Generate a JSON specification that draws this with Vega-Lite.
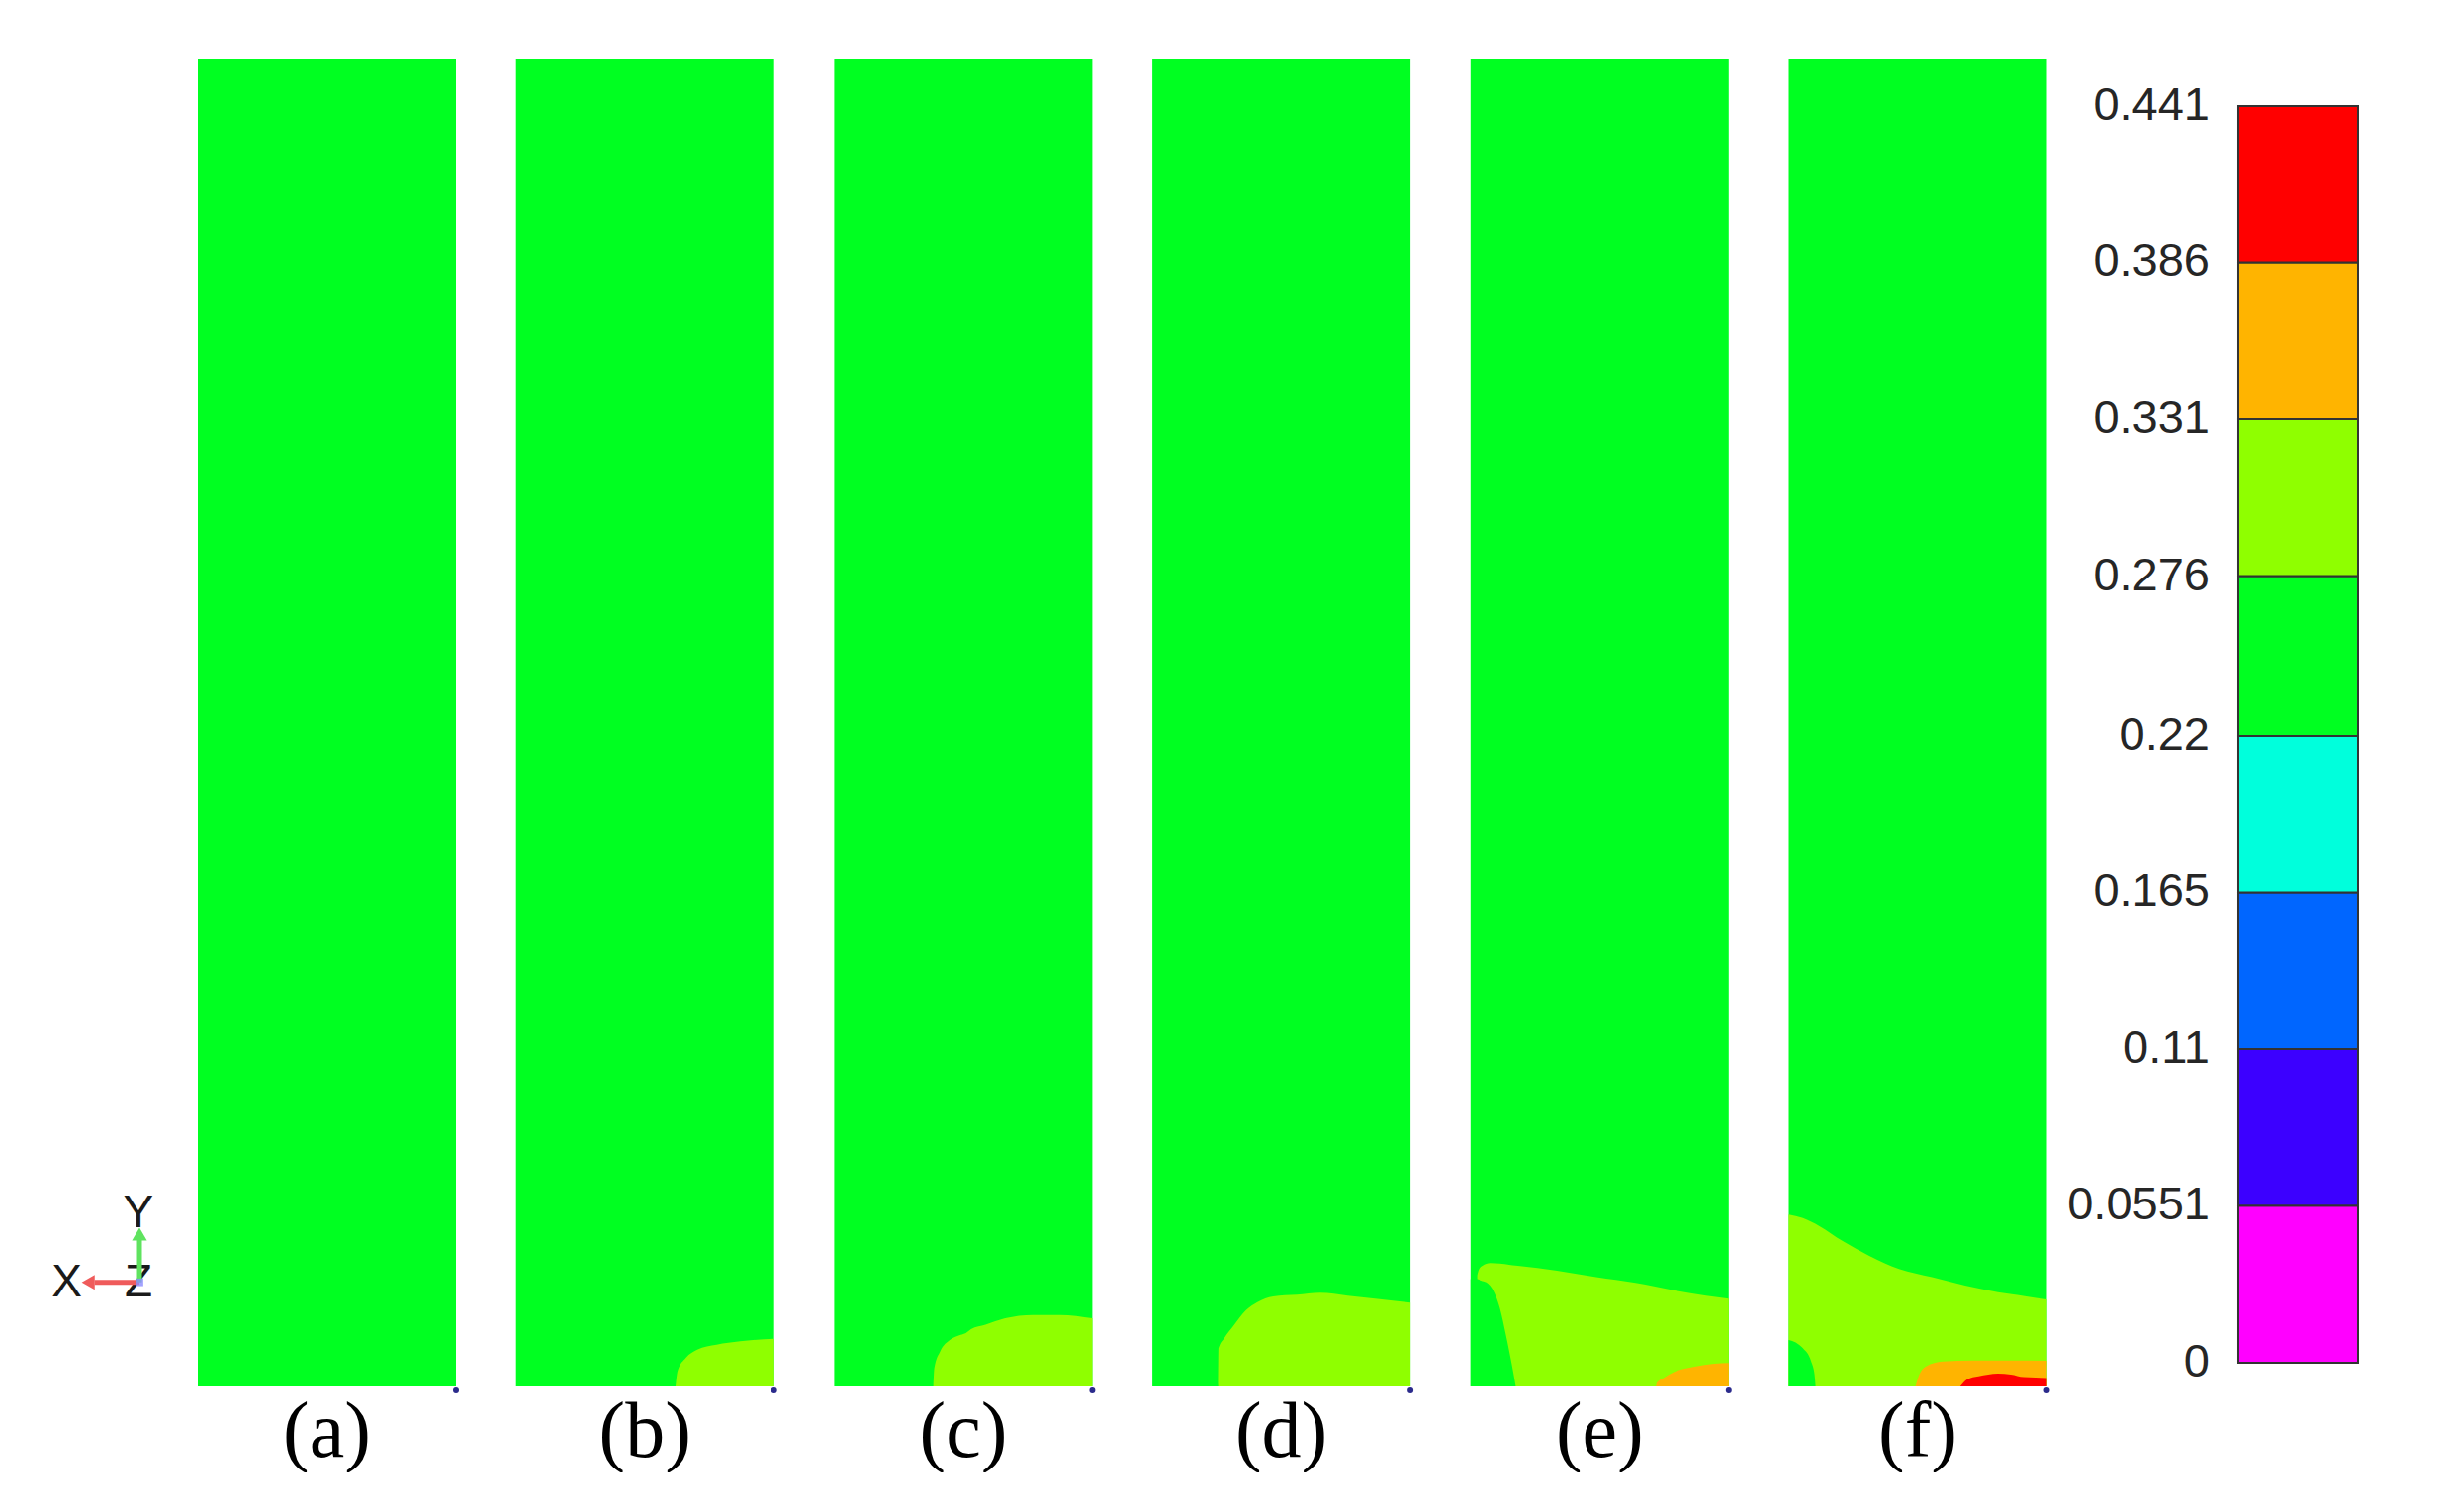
{
  "$schema": "https://vega.github.io/schema/vega-lite/v6.json",
  "background": "white",
  "padding": {"left": 20, "top": 60, "right": 0, "bottom": 0},
  "autosize": {"type": "pad"},
  "config": {"view": {"stroke": null}},
  "datasets": {
    "regions": [
      {"panel": "(a)", "part": "bg", "level": "0.22-0.276", "x": 0, "y": 5.142},
      {"panel": "(a)", "part": "bg", "level": "0.22-0.276", "x": 1, "y": 5.142},
      {"panel": "(a)", "part": "node", "level": null, "x": 1, "y": 0},

      {"panel": "(b)", "part": "bg", "level": "0.22-0.276", "x": 0, "y": 5.142},
      {"panel": "(b)", "part": "bg", "level": "0.22-0.276", "x": 1, "y": 5.142},
      {"panel": "(b)", "part": "yg", "level": "0.276-0.331", "x": 0.618, "y": 0},
      {"panel": "(b)", "part": "yg", "level": "0.276-0.331", "x": 0.626, "y": 0.06},
      {"panel": "(b)", "part": "yg", "level": "0.276-0.331", "x": 0.658, "y": 0.111},
      {"panel": "(b)", "part": "yg", "level": "0.276-0.331", "x": 0.702, "y": 0.143},
      {"panel": "(b)", "part": "yg", "level": "0.276-0.331", "x": 0.777, "y": 0.162},
      {"panel": "(b)", "part": "yg", "level": "0.276-0.331", "x": 0.868, "y": 0.175},
      {"panel": "(b)", "part": "yg", "level": "0.276-0.331", "x": 1.0, "y": 0.185},
      {"panel": "(b)", "part": "node", "level": null, "x": 1, "y": 0},

      {"panel": "(c)", "part": "bg", "level": "0.22-0.276", "x": 0, "y": 5.142},
      {"panel": "(c)", "part": "bg", "level": "0.22-0.276", "x": 1, "y": 5.142},
      {"panel": "(c)", "part": "yg", "level": "0.276-0.331", "x": 0.384, "y": 0},
      {"panel": "(c)", "part": "yg", "level": "0.276-0.331", "x": 0.388, "y": 0.073},
      {"panel": "(c)", "part": "yg", "level": "0.276-0.331", "x": 0.411, "y": 0.137},
      {"panel": "(c)", "part": "yg", "level": "0.276-0.331", "x": 0.449, "y": 0.181},
      {"panel": "(c)", "part": "yg", "level": "0.276-0.331", "x": 0.49, "y": 0.2},
      {"panel": "(c)", "part": "yg", "level": "0.276-0.331", "x": 0.51, "y": 0.207},
      {"panel": "(c)", "part": "yg", "level": "0.276-0.331", "x": 0.53, "y": 0.222},
      {"panel": "(c)", "part": "yg", "level": "0.276-0.331", "x": 0.586, "y": 0.239},
      {"panel": "(c)", "part": "yg", "level": "0.276-0.331", "x": 0.662, "y": 0.264},
      {"panel": "(c)", "part": "yg", "level": "0.276-0.331", "x": 0.769, "y": 0.277},
      {"panel": "(c)", "part": "yg", "level": "0.276-0.331", "x": 0.875, "y": 0.277},
      {"panel": "(c)", "part": "yg", "level": "0.276-0.331", "x": 1.0, "y": 0.264},
      {"panel": "(c)", "part": "node", "level": null, "x": 1, "y": 0},

      {"panel": "(d)", "part": "bg", "level": "0.22-0.276", "x": 0, "y": 5.142},
      {"panel": "(d)", "part": "bg", "level": "0.22-0.276", "x": 1, "y": 5.142},
      {"panel": "(d)", "part": "yg", "level": "0.276-0.331", "x": 0.255, "y": 0},
      {"panel": "(d)", "part": "yg", "level": "0.276-0.331", "x": 0.256, "y": 0.148},
      {"panel": "(d)", "part": "yg", "level": "0.276-0.331", "x": 0.278, "y": 0.187},
      {"panel": "(d)", "part": "yg", "level": "0.276-0.331", "x": 0.316, "y": 0.238},
      {"panel": "(d)", "part": "yg", "level": "0.276-0.331", "x": 0.362, "y": 0.295},
      {"panel": "(d)", "part": "yg", "level": "0.276-0.331", "x": 0.407, "y": 0.327},
      {"panel": "(d)", "part": "yg", "level": "0.276-0.331", "x": 0.468, "y": 0.349},
      {"panel": "(d)", "part": "yg", "level": "0.276-0.331", "x": 0.559, "y": 0.355},
      {"panel": "(d)", "part": "yg", "level": "0.276-0.331", "x": 0.65, "y": 0.363},
      {"panel": "(d)", "part": "yg", "level": "0.276-0.331", "x": 0.757, "y": 0.352},
      {"panel": "(d)", "part": "yg", "level": "0.276-0.331", "x": 0.863, "y": 0.34},
      {"panel": "(d)", "part": "yg", "level": "0.276-0.331", "x": 1.0, "y": 0.325},
      {"panel": "(d)", "part": "node", "level": null, "x": 1, "y": 0},

      {"panel": "(e)", "part": "bg", "level": "0.22-0.276", "x": 0, "y": 5.142},
      {"panel": "(e)", "part": "bg", "level": "0.22-0.276", "x": 1, "y": 5.142},
      {"panel": "(e)", "part": "yg", "level": "0.276-0.331", "x": 0.026, "y": 0.43},
      {"panel": "(e)", "part": "yg", "level": "0.276-0.331", "x": 0.032, "y": 0.452},
      {"panel": "(e)", "part": "yg", "level": "0.276-0.331", "x": 0.046, "y": 0.467},
      {"panel": "(e)", "part": "yg", "level": "0.276-0.331", "x": 0.076, "y": 0.478},
      {"panel": "(e)", "part": "yg", "level": "0.276-0.331", "x": 0.183, "y": 0.467},
      {"panel": "(e)", "part": "yg", "level": "0.276-0.331", "x": 0.335, "y": 0.448},
      {"panel": "(e)", "part": "yg", "level": "0.276-0.331", "x": 0.487, "y": 0.423},
      {"panel": "(e)", "part": "yg", "level": "0.276-0.331", "x": 0.639, "y": 0.401},
      {"panel": "(e)", "part": "yg", "level": "0.276-0.331", "x": 0.791, "y": 0.372},
      {"panel": "(e)", "part": "yg", "level": "0.276-0.331", "x": 0.913, "y": 0.352},
      {"panel": "(e)", "part": "yg", "level": "0.276-0.331", "x": 1.0, "y": 0.34},
      {"panel": "(e)", "part": "pocket", "level": "0.22-0.276", "x": 0, "y": 0.416},
      {"panel": "(e)", "part": "pocket", "level": "0.22-0.276", "x": 0.027, "y": 0.416},
      {"panel": "(e)", "part": "pocket", "level": "0.22-0.276", "x": 0.04, "y": 0.41},
      {"panel": "(e)", "part": "pocket", "level": "0.22-0.276", "x": 0.061, "y": 0.403},
      {"panel": "(e)", "part": "pocket", "level": "0.22-0.276", "x": 0.091, "y": 0.365},
      {"panel": "(e)", "part": "pocket", "level": "0.22-0.276", "x": 0.114, "y": 0.302},
      {"panel": "(e)", "part": "pocket", "level": "0.22-0.276", "x": 0.137, "y": 0.199},
      {"panel": "(e)", "part": "pocket", "level": "0.22-0.276", "x": 0.16, "y": 0.084},
      {"panel": "(e)", "part": "pocket", "level": "0.22-0.276", "x": 0.175, "y": 0},
      {"panel": "(e)", "part": "or", "level": "0.331-0.386", "x": 0.718, "y": 0},
      {"panel": "(e)", "part": "or", "level": "0.331-0.386", "x": 0.722, "y": 0.015},
      {"panel": "(e)", "part": "or", "level": "0.331-0.386", "x": 0.746, "y": 0.032},
      {"panel": "(e)", "part": "or", "level": "0.331-0.386", "x": 0.791, "y": 0.057},
      {"panel": "(e)", "part": "or", "level": "0.331-0.386", "x": 0.868, "y": 0.077},
      {"panel": "(e)", "part": "or", "level": "0.331-0.386", "x": 0.944, "y": 0.088},
      {"panel": "(e)", "part": "or", "level": "0.331-0.386", "x": 1.0, "y": 0.091},
      {"panel": "(e)", "part": "node", "level": null, "x": 1, "y": 0},

      {"panel": "(f)", "part": "bg", "level": "0.22-0.276", "x": 0, "y": 5.142},
      {"panel": "(f)", "part": "bg", "level": "0.22-0.276", "x": 1, "y": 5.142},
      {"panel": "(f)", "part": "yg", "level": "0.276-0.331", "x": 0, "y": 0.666},
      {"panel": "(f)", "part": "yg", "level": "0.276-0.331", "x": 0.055, "y": 0.652},
      {"panel": "(f)", "part": "yg", "level": "0.276-0.331", "x": 0.119, "y": 0.621},
      {"panel": "(f)", "part": "yg", "level": "0.276-0.331", "x": 0.209, "y": 0.563},
      {"panel": "(f)", "part": "yg", "level": "0.276-0.331", "x": 0.312, "y": 0.506},
      {"panel": "(f)", "part": "yg", "level": "0.276-0.331", "x": 0.427, "y": 0.455},
      {"panel": "(f)", "part": "yg", "level": "0.276-0.331", "x": 0.555, "y": 0.423},
      {"panel": "(f)", "part": "yg", "level": "0.276-0.331", "x": 0.683, "y": 0.391},
      {"panel": "(f)", "part": "yg", "level": "0.276-0.331", "x": 0.81, "y": 0.365},
      {"panel": "(f)", "part": "yg", "level": "0.276-0.331", "x": 0.914, "y": 0.35},
      {"panel": "(f)", "part": "yg", "level": "0.276-0.331", "x": 1.0, "y": 0.337},
      {"panel": "(f)", "part": "pocket", "level": "0.22-0.276", "x": 0, "y": 0.18},
      {"panel": "(f)", "part": "pocket", "level": "0.22-0.276", "x": 0.055, "y": 0.148},
      {"panel": "(f)", "part": "pocket", "level": "0.22-0.276", "x": 0.087, "y": 0.097},
      {"panel": "(f)", "part": "pocket", "level": "0.22-0.276", "x": 0.1, "y": 0.046},
      {"panel": "(f)", "part": "pocket", "level": "0.22-0.276", "x": 0.104, "y": 0},
      {"panel": "(f)", "part": "or", "level": "0.331-0.386", "x": 0.491, "y": 0},
      {"panel": "(f)", "part": "or", "level": "0.331-0.386", "x": 0.503, "y": 0.039},
      {"panel": "(f)", "part": "or", "level": "0.331-0.386", "x": 0.532, "y": 0.078},
      {"panel": "(f)", "part": "or", "level": "0.331-0.386", "x": 0.596, "y": 0.097},
      {"panel": "(f)", "part": "or", "level": "0.331-0.386", "x": 0.712, "y": 0.101},
      {"panel": "(f)", "part": "or", "level": "0.331-0.386", "x": 0.853, "y": 0.101},
      {"panel": "(f)", "part": "or", "level": "0.331-0.386", "x": 1.0, "y": 0.1},
      {"panel": "(f)", "part": "red", "level": "0.386-0.441", "x": 0.664, "y": 0},
      {"panel": "(f)", "part": "red", "level": "0.386-0.441", "x": 0.69, "y": 0.027},
      {"panel": "(f)", "part": "red", "level": "0.386-0.441", "x": 0.735, "y": 0.039},
      {"panel": "(f)", "part": "red", "level": "0.386-0.441", "x": 0.81, "y": 0.05},
      {"panel": "(f)", "part": "red", "level": "0.386-0.441", "x": 0.86, "y": 0.046},
      {"panel": "(f)", "part": "red", "level": "0.386-0.441", "x": 0.91, "y": 0.036},
      {"panel": "(f)", "part": "red", "level": "0.386-0.441", "x": 1.0, "y": 0.033},
      {"panel": "(f)", "part": "node", "level": null, "x": 1, "y": 0}
    ],
    "bar": [
      {"lo": 0, "hi": 0.0551, "level": "0-0.0551"},
      {"lo": 0.0551, "hi": 0.11, "level": "0.0551-0.11"},
      {"lo": 0.11, "hi": 0.165, "level": "0.11-0.165"},
      {"lo": 0.165, "hi": 0.22, "level": "0.165-0.22"},
      {"lo": 0.22, "hi": 0.276, "level": "0.22-0.276"},
      {"lo": 0.276, "hi": 0.331, "level": "0.276-0.331"},
      {"lo": 0.331, "hi": 0.386, "level": "0.331-0.386"},
      {"lo": 0.386, "hi": 0.441, "level": "0.386-0.441"}
    ],
    "ticks": [
      {"v": 0, "label": "0"},
      {"v": 0.0551, "label": "0.0551"},
      {"v": 0.11, "label": "0.11"},
      {"v": 0.165, "label": "0.165"},
      {"v": 0.22, "label": "0.22"},
      {"v": 0.276, "label": "0.276"},
      {"v": 0.331, "label": "0.331"},
      {"v": 0.386, "label": "0.386"},
      {"v": 0.441, "label": "0.441"}
    ],
    "triad": [
      {"kind": "label", "name": "X", "axis": "X", "x": 0.182, "y": 0.401},
      {"kind": "label", "name": "Y", "axis": "Y", "x": 0.459, "y": 0.669},
      {"kind": "label", "name": "Z", "axis": "Z", "x": 0.46, "y": 0.401},
      {"kind": "shaft", "axis": "X", "x": 0.4636, "y": 0.4034, "x2": 0.29, "y2": 0.4034},
      {"kind": "shaft", "axis": "Y", "x": 0.4636, "y": 0.4034, "x2": 0.4636, "y2": 0.575},
      {"kind": "head", "axis": "X", "shape": "triangle-left", "x": 0.265, "y": 0.4034},
      {"kind": "head", "axis": "Y", "shape": "triangle-up", "x": 0.4636, "y": 0.59},
      {"kind": "origin", "axis": "Z", "shape": "square", "x": 0.4636, "y": 0.4034}
    ]
  },
  "spacing": 17,
  "hconcat": [
    {
      "data": {"name": "triad"},
      "width": 162.4,
      "height": 1342,
      "encoding": {
        "x": {"field": "x", "type": "quantitative", "scale": {"domain": [0, 0.6222], "nice": false, "zero": false}, "axis": null},
        "y": {"field": "y", "type": "quantitative", "scale": {"domain": [0, 5.142], "nice": false, "zero": false}, "axis": null}
      },
      "layer": [
        {
          "transform": [{"filter": "datum.kind === 'label'"}],
          "mark": {"type": "text", "font": "Liberation Sans", "fontSize": 46, "color": "#1a1a1a", "align": "center", "baseline": "middle"},
          "encoding": {"text": {"field": "name", "type": "nominal"}}
        },
        {
          "transform": [{"filter": "datum.kind === 'shaft' && datum.axis === 'X'"}],
          "mark": {"type": "rule", "strokeWidth": 5, "color": "#ef5b5b"},
          "encoding": {"x2": {"field": "x2"}, "y2": {"field": "y2"}}
        },
        {
          "transform": [{"filter": "datum.kind === 'shaft' && datum.axis === 'Y'"}],
          "mark": {"type": "rule", "strokeWidth": 5, "color": "#5fe35f"},
          "encoding": {"x2": {"field": "x2"}, "y2": {"field": "y2"}}
        },
        {
          "transform": [{"filter": "datum.kind === 'head' && datum.axis === 'X'"}],
          "mark": {"type": "point", "filled": true, "opacity": 1, "size": 230, "color": "#ef5b5b"},
          "encoding": {"shape": {"field": "shape", "type": "nominal", "scale": null}}
        },
        {
          "transform": [{"filter": "datum.kind === 'head' && datum.axis === 'Y'"}],
          "mark": {"type": "point", "filled": true, "opacity": 1, "size": 230, "color": "#5fe35f"},
          "encoding": {"shape": {"field": "shape", "type": "nominal", "scale": null}}
        },
        {
          "transform": [{"filter": "datum.kind === 'origin'"}],
          "mark": {"type": "point", "filled": true, "opacity": 0.8, "size": 60, "color": "#8c8cff"},
          "encoding": {"shape": {"field": "shape", "type": "nominal", "scale": null}}
        }
      ]
    },
    {
      "data": {"name": "regions"},
      "spacing": 57.7,
      "facet": {
        "column": {
          "field": "panel",
          "type": "nominal",
          "header": {
            "title": null,
            "labelOrient": "bottom",
            "labelFont": "Liberation Serif",
            "labelFontSize": 80,
            "labelColor": "#000000",
            "labelBaseline": "alphabetic",
            "labelPadding": 64
          }
        }
      },
      "spec": {
        "width": 261,
        "height": 1342,
        "encoding": {
          "x": {"field": "x", "type": "quantitative", "scale": {"domain": [0, 1], "nice": false, "zero": false}, "axis": null},
          "y": {"field": "y", "type": "quantitative", "scale": {"domain": [0, 5.142], "nice": false, "zero": false}, "axis": null}
        },
        "layer": [
          {
            "transform": [{"filter": "datum.part === 'bg'"}],
            "mark": {"type": "area"},
            "encoding": {
              "y2": {"datum": 0},
              "color": {"field": "level", "type": "nominal", "scale": {"domain": ["0-0.0551", "0.0551-0.11", "0.11-0.165", "0.165-0.22", "0.22-0.276", "0.276-0.331", "0.331-0.386", "0.386-0.441"], "range": ["#ff00ff", "#3c00ff", "#0066ff", "#00ffdc", "#00ff21", "#8fff00", "#ffb400", "#ff0000"]}, "legend": null}
            }
          },
          {
            "transform": [{"filter": "datum.part === 'yg'"}],
            "mark": {"type": "area", "interpolate": "monotone"},
            "encoding": {
              "y2": {"datum": 0},
              "color": {"field": "level", "type": "nominal", "scale": {"domain": ["0-0.0551", "0.0551-0.11", "0.11-0.165", "0.165-0.22", "0.22-0.276", "0.276-0.331", "0.331-0.386", "0.386-0.441"], "range": ["#ff00ff", "#3c00ff", "#0066ff", "#00ffdc", "#00ff21", "#8fff00", "#ffb400", "#ff0000"]}, "legend": null}
            }
          },
          {
            "transform": [{"filter": "datum.part === 'pocket'"}],
            "mark": {"type": "area", "interpolate": "monotone"},
            "encoding": {
              "y2": {"datum": 0},
              "color": {"field": "level", "type": "nominal", "scale": {"domain": ["0-0.0551", "0.0551-0.11", "0.11-0.165", "0.165-0.22", "0.22-0.276", "0.276-0.331", "0.331-0.386", "0.386-0.441"], "range": ["#ff00ff", "#3c00ff", "#0066ff", "#00ffdc", "#00ff21", "#8fff00", "#ffb400", "#ff0000"]}, "legend": null}
            }
          },
          {
            "transform": [{"filter": "datum.part === 'or'"}],
            "mark": {"type": "area", "interpolate": "monotone"},
            "encoding": {
              "y2": {"datum": 0},
              "color": {"field": "level", "type": "nominal", "scale": {"domain": ["0-0.0551", "0.0551-0.11", "0.11-0.165", "0.165-0.22", "0.22-0.276", "0.276-0.331", "0.331-0.386", "0.386-0.441"], "range": ["#ff00ff", "#3c00ff", "#0066ff", "#00ffdc", "#00ff21", "#8fff00", "#ffb400", "#ff0000"]}, "legend": null}
            }
          },
          {
            "transform": [{"filter": "datum.part === 'red'"}],
            "mark": {"type": "area", "interpolate": "monotone"},
            "encoding": {
              "y2": {"datum": 0},
              "color": {"field": "level", "type": "nominal", "scale": {"domain": ["0-0.0551", "0.0551-0.11", "0.11-0.165", "0.165-0.22", "0.22-0.276", "0.276-0.331", "0.331-0.386", "0.386-0.441"], "range": ["#ff00ff", "#3c00ff", "#0066ff", "#00ffdc", "#00ff21", "#8fff00", "#ffb400", "#ff0000"]}, "legend": null}
            }
          },
          {
            "transform": [{"filter": "datum.part === 'node'"}],
            "mark": {"type": "point", "filled": true, "color": "#2b2b8c", "size": 36, "yOffset": 4, "opacity": 1}
          }
        ]
      }
    },
    {
      "width": 294,
      "height": 1342,
      "layer": [
        {
          "data": {"name": "bar"},
          "mark": {"type": "rect", "stroke": "#333333", "strokeWidth": 2},
          "encoding": {
            "x": {"datum": 0.5884, "type": "quantitative", "scale": {"domain": [0, 1], "nice": false, "zero": false}, "axis": null},
            "x2": {"datum": 1},
            "y": {"field": "lo", "type": "quantitative", "scale": {"domain": [-0.00833, 0.4573], "nice": false, "zero": false}, "axis": null},
            "y2": {"field": "hi"},
            "color": {"field": "level", "type": "nominal", "scale": {"domain": ["0-0.0551", "0.0551-0.11", "0.11-0.165", "0.165-0.22", "0.22-0.276", "0.276-0.331", "0.331-0.386", "0.386-0.441"], "range": ["#ff00ff", "#3c00ff", "#0066ff", "#00ffdc", "#00ff21", "#8fff00", "#ffb400", "#ff0000"]}, "legend": null}
          }
        },
        {
          "data": {"name": "ticks"},
          "mark": {"type": "text", "font": "Liberation Sans", "fontSize": 47, "color": "#262626", "align": "right", "baseline": "middle"},
          "encoding": {
            "x": {"datum": 0.4898, "type": "quantitative"},
            "y": {"field": "v", "type": "quantitative"},
            "text": {"field": "label", "type": "nominal"}
          }
        }
      ]
    }
  ]
}
